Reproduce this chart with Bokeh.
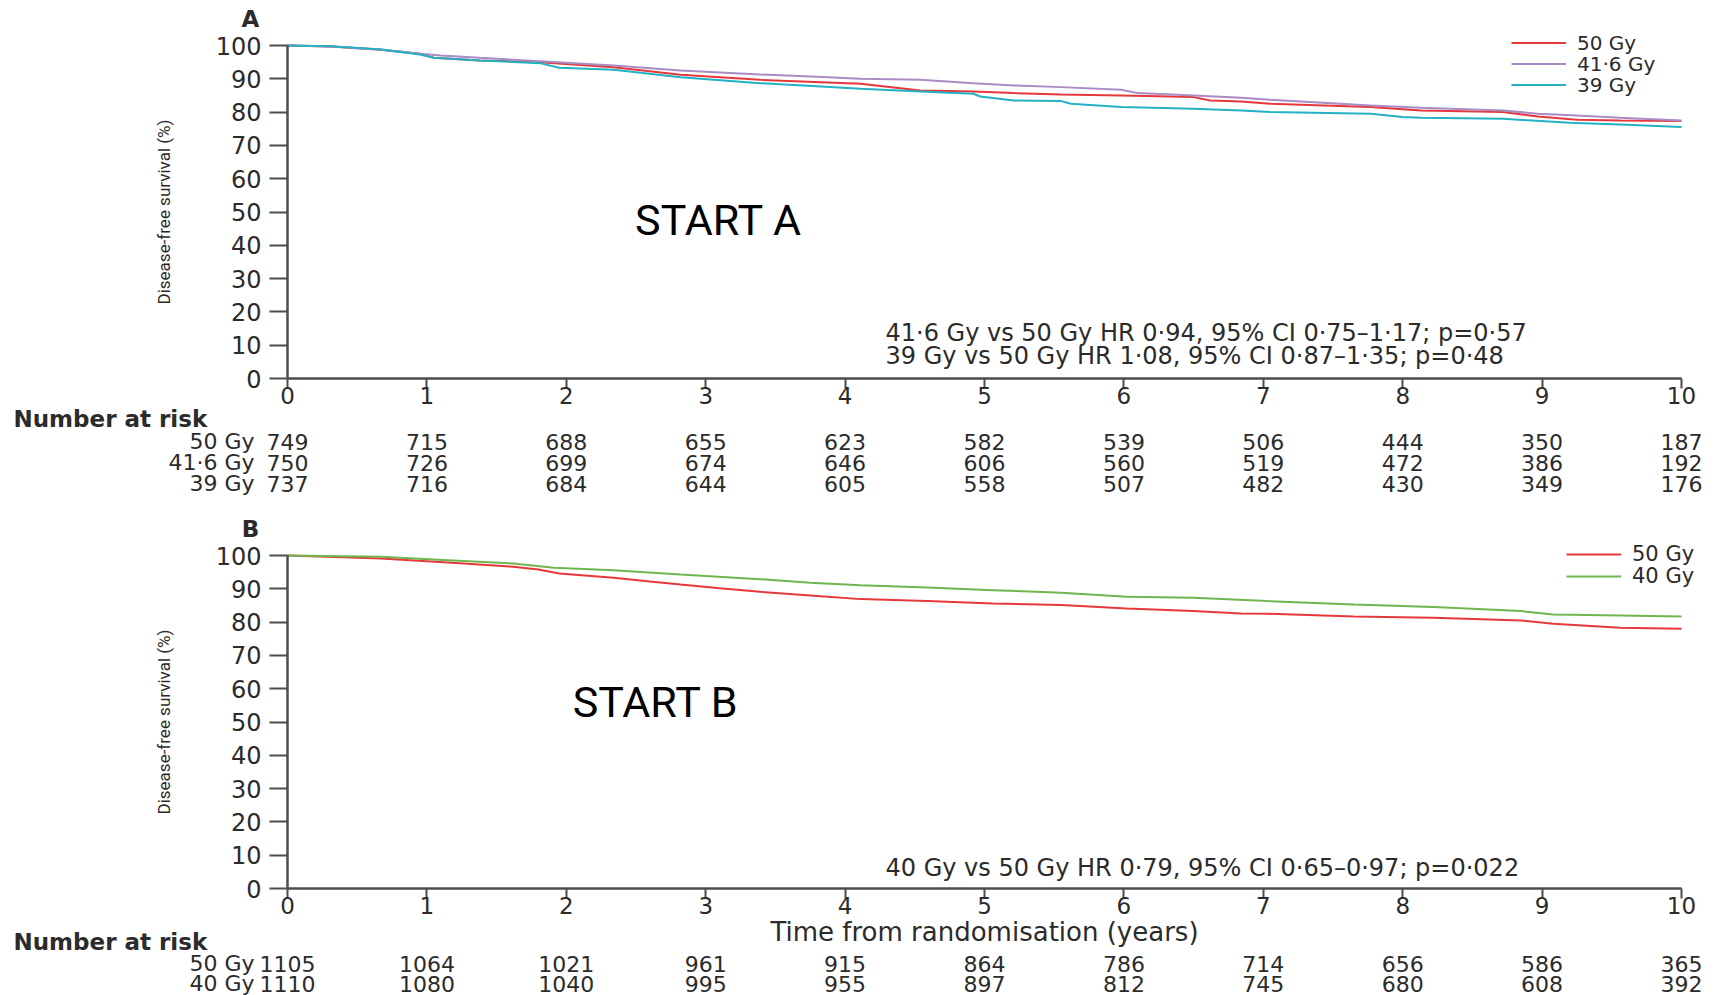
import math
from bokeh.plotting import figure
from bokeh.models import FixedTicker, Legend, LegendItem, Range1d
from bokeh.layouts import column
from bokeh.core.properties import value
from bokeh.embed import file_html
from bokeh.resources import INLINE

# ---------------- data ----------------
years = [0, 1, 2, 3, 4, 5, 6, 7, 8, 9, 10]
y_ticks = [0, 10, 20, 30, 40, 50, 60, 70, 80, 90, 100]

# START A – disease-free survival (%)
a50_t = [0, 0.31, 0.67, 0.95, 1.05, 1.38, 1.81, 2.34, 2.82, 3.39, 4.11, 4.54, 4.92, 5.21, 5.55,
         5.98, 6.5, 6.62, 6.84, 7.05, 7.77, 8.13, 8.72, 8.97, 9.25, 9.56, 10.0]
a50_s = [100, 99.7, 98.7, 97.5, 96.3, 95.5, 95.0, 93.5, 91.2, 89.7, 88.5, 86.5, 86.2, 85.7, 85.3,
         85.0, 84.5, 83.5, 83.2, 82.5, 81.5, 80.5, 80.0, 78.7, 77.7, 77.5, 77.3]
a416_t = [0, 0.31, 0.67, 0.95, 1.1, 1.38, 1.81, 2.34, 2.82, 3.39, 3.8, 4.11, 4.54, 4.92, 5.21,
          5.55, 5.98, 6.1, 6.5, 6.84, 7.05, 7.77, 8.13, 8.72, 8.97, 9.25, 9.56, 10.0]
a416_s = [100, 99.7, 98.8, 97.5, 97.0, 96.3, 95.3, 94.0, 92.5, 91.3, 90.6, 90.0, 89.7, 88.7, 88.0,
          87.5, 86.7, 85.7, 85.0, 84.3, 83.7, 82.0, 81.3, 80.5, 79.5, 79.0, 78.3, 77.5]
a39_t = [0, 0.31, 0.67, 0.95, 1.05, 1.38, 1.81, 1.95, 2.34, 2.82, 3.39, 3.7, 4.11, 4.54, 4.92,
         4.97, 5.21, 5.55, 5.62, 5.98, 6.5, 6.84, 7.05, 7.77, 8.0, 8.13, 8.72, 9.2, 9.56, 10.0]
a39_s = [100, 99.8, 98.8, 97.3, 96.3, 95.5, 94.7, 93.3, 92.7, 90.5, 88.7, 88.0, 87.0, 86.2, 85.5,
         84.7, 83.5, 83.3, 82.5, 81.5, 81.0, 80.5, 80.0, 79.5, 78.5, 78.3, 78.0, 76.8, 76.3, 75.5]

# START B – disease-free survival (%)
b50_t = [0, 0.4, 0.67, 1.0, 1.15, 1.62, 1.8, 1.95, 2.34, 2.6, 2.82, 3.1, 3.39, 3.75, 4.11, 4.59,
         5.06, 5.55, 6.02, 6.5, 6.84, 7.03, 7.65, 8.22, 8.85, 9.08, 9.56, 10.0]
b50_s = [100, 99.5, 99.1, 98.3, 97.9, 96.6, 95.8, 94.6, 93.3, 92.2, 91.3, 90.2, 89.1, 88.0, 86.9, 86.3,
         85.6, 85.1, 84.1, 83.3, 82.6, 82.5, 81.7, 81.3, 80.5, 79.5, 78.3, 78.0]
b40_t = [0, 0.4, 0.67, 1.15, 1.62, 1.91, 2.34, 2.82, 3.39, 3.75, 4.11, 4.59, 5.06, 5.55, 6.02, 6.5,
         7.03, 7.65, 8.22, 8.85, 9.08, 9.56, 10.0]
b40_s = [100, 99.8, 99.6, 98.6, 97.6, 96.3, 95.6, 94.3, 92.9, 91.8, 91.1, 90.4, 89.6, 88.8, 87.6, 87.3,
         86.3, 85.3, 84.5, 83.3, 82.3, 82.0, 81.7]

# numbers at risk
risk_a_labels = ["50 Gy", "41·6 Gy", "39 Gy"]
risk_a50 = [749, 715, 688, 655, 623, 582, 539, 506, 444, 350, 187]
risk_a416 = [750, 726, 699, 674, 646, 606, 560, 519, 472, 386, 192]
risk_a39 = [737, 716, 684, 644, 605, 558, 507, 482, 430, 349, 176]
risk_b_labels = ["50 Gy", "40 Gy"]
risk_b50 = [1105, 1064, 1021, 961, 915, 864, 786, 714, 656, 586, 365]
risk_b40 = [1110, 1080, 1040, 995, 955, 897, 812, 745, 680, 608, 392]

stats_a = ["41·6 Gy vs 50 Gy HR 0·94, 95% CI 0·75–1·17; p=0·57",
           "39 Gy vs 50 Gy HR 1·08, 95% CI 0·87–1·35; p=0·48"]
stats_b = ["40 Gy vs 50 Gy HR 0·79, 95% CI 0·65–0·97; p=0·022"]

# ---------------- style ----------------
W = 1717
AX = "#4d4d4d"
TXT = "#2b2b2b"
WIDE = "DejaVu Sans"
TITLEF = "Roboto"
C50 = "#e5383b"
C416 = "#a98bc6"
C39 = "#22b2c4"
C40 = "#6fb64f"


def panel(h, top, py100, py0, px0=287, px10=1681, xlabel=None):
    # py100 / py0 are page pixel rows; top is the page row where this figure starts
    sx = (px10 - px0) / 10.0
    sy = (py0 - py100) / 100.0
    r100 = py100 - top
    r0 = py0 - top
    p = figure(width=W, height=h,
               x_range=Range1d(-px0 / sx, (W - px0) / sx),
               y_range=Range1d(-(h - r0) / sy, 100 + r100 / sy),
               output_backend="svg", toolbar_location=None, min_border=0,
               background_fill_color="white", border_fill_color="white")
    p.outline_line_color = None
    p.xgrid.visible = False
    p.ygrid.visible = False
    xa = p.xaxis[0]
    xa.fixed_location = 0
    xa.bounds = (0, 10)
    xa.ticker = FixedTicker(ticks=years)
    xa.axis_line_color = AX
    xa.axis_line_width = 2.5
    xa.major_tick_line_color = AX
    xa.major_tick_line_width = 2
    xa.major_tick_out = 10
    xa.major_tick_in = 0
    xa.minor_tick_line_color = None
    xa.major_label_standoff = -2
    xa.major_label_text_font = WIDE
    xa.major_label_text_font_size = "23px"
    xa.major_label_text_color = TXT
    if xlabel:
        xa.axis_label = xlabel
        xa.axis_label_text_font = WIDE
        xa.axis_label_text_font_style = "normal"
        xa.axis_label_text_font_size = "26px"
        xa.axis_label_text_color = TXT
        xa.axis_label_standoff = 0
    ya = p.yaxis[0]
    ya.fixed_location = 0
    ya.bounds = (0, 100)
    ya.ticker = FixedTicker(ticks=y_ticks)
    ya.axis_line_color = AX
    ya.axis_line_width = 2.5
    ya.major_tick_line_color = AX
    ya.major_tick_line_width = 2
    ya.major_tick_out = 18
    ya.major_tick_in = 0
    ya.minor_tick_line_color = None
    ya.major_label_standoff = 8
    ya.major_label_text_font = WIDE
    ya.major_label_text_font_size = "24px"
    ya.major_label_text_color = TXT
    ya.axis_label = "Disease-free survival (%)"
    ya.axis_label_text_font = TITLEF
    ya.axis_label_text_font_style = "normal"
    ya.axis_label_text_font_size = "17px"
    ya.axis_label_text_color = TXT
    ya.axis_label_standoff = 39
    to_y = lambda pix: 100 - (pix - py100) / sy
    to_x = lambda pix: (pix - px0) / sx
    return p, to_x, to_y


def txt(p, x, y, t, size, font=WIDE, align="left", style="normal", color=TXT, baseline="middle"):
    p.text(x=x, y=y, text=t, text_font=value(font), text_font_size=size, text_align=align,
           text_baseline=baseline, text_font_style=style, text_color=color)


def risk_table(p, to_x, to_y, head_py, rows_py, labels, series):
    txt(p, [to_x(13)], [to_y(head_py)], ["Number at risk"], "23px", style="bold")
    for py, lab, vals in zip(rows_py, labels, series):
        txt(p, [to_x(254)], [to_y(py)], [lab], "22px", align="right")
        txt(p, years, [to_y(py)] * len(years), [str(v) for v in vals], "22px", align="center")


def add_legend(p, h, top, renderer, label, x, center_py, box, size):
    # one legend box per row so rows sit exactly where the reference has them
    bottom = h - (center_py - top + box / 2.0)
    leg = Legend(items=[LegendItem(label=label, renderers=[renderer])], location=(x, bottom),
                 orientation="vertical", glyph_width=55, glyph_height=box, label_height=box,
                 label_standoff=11, spacing=0, padding=0, margin=0, border_line_color=None,
                 background_fill_alpha=0, label_text_font=WIDE, label_text_font_size=size,
                 label_text_color=TXT, label_text_baseline="middle")
    p.add_layout(leg)


# ---------------- panel A ----------------
HA = 505
pa, ax_, ay_ = panel(HA, 0, 45, 378)
ra50 = pa.line(a50_t, a50_s, line_color=C50, line_width=2)
ra416 = pa.line(a416_t, a416_s, line_color=C416, line_width=2)
ra39 = pa.line(a39_t, a39_s, line_color=C39, line_width=2)
add_legend(pa, HA, 0, ra50, "50 Gy", 1511, 44, 21, "20px")
add_legend(pa, HA, 0, ra416, "41·6 Gy", 1511, 65, 21, "20px")
add_legend(pa, HA, 0, ra39, "39 Gy", 1511, 86, 21, "20px")
txt(pa, [ax_(250)], [ay_(18)], ["A"], "23px", align="center", style="bold")
txt(pa, [ax_(718)], [ay_(219)], ["START A"], "43px", font=TITLEF, align="center", color="#000000")
txt(pa, [ax_(885)] * 2, [ay_(332), ay_(355)], stats_a, "24px")
risk_table(pa, ax_, ay_, 418, [441, 462, 483], risk_a_labels, [risk_a50, risk_a416, risk_a39])

# ---------------- panel B ----------------
TB = HA
HB = 995 - HA
pb, bx_, by_ = panel(HB, TB, 555, 888, xlabel="Time from randomisation (years)")
rb50 = pb.line(b50_t, b50_s, line_color=C50, line_width=2)
rb40 = pb.line(b40_t, b40_s, line_color=C40, line_width=2)
add_legend(pb, HB, TB, rb50, "50 Gy", 1566, 555, 22, "21px")
add_legend(pb, HB, TB, rb40, "40 Gy", 1566, 577, 22, "21px")
txt(pb, [bx_(250)], [by_(528)], ["B"], "23px", align="center", style="bold")
txt(pb, [bx_(655)], [by_(701)], ["START B"], "43px", font=TITLEF, align="center", color="#000000")
txt(pb, [bx_(885)], [by_(867)], stats_b, "24px")
risk_table(pb, bx_, by_, 941, [963, 983], risk_b_labels, [risk_b50, risk_b40])

layout = column(pa, pb, spacing=0)
open("out.html", "w").write(file_html(layout, INLINE))
